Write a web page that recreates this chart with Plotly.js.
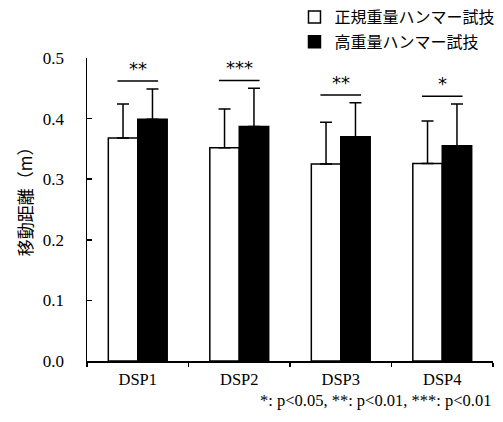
<!DOCTYPE html>
<html>
<head>
<meta charset="utf-8">
<script src="https://cdn.plot.ly/plotly-3.0.1.min.js"></script>
<style>html,body{margin:0;padding:0;background:#fff;}#chart{width:503px;height:422px;}</style>
</head>
<body>
<div id="chart"></div>
<script>
const categories = ["DSP1", "DSP2", "DSP3", "DSP4"];
const seriesNames = ["正規重量ハンマー試技", "高重量ハンマー試技"];
const normalMean = [0.368, 0.352, 0.325, 0.326];
const normalSD = [0.056, 0.064, 0.069, 0.070];
const heavyMean = [0.399, 0.387, 0.370, 0.355];
const heavySD = [0.050, 0.063, 0.056, 0.069];
const sigLabels = ["**", "***", "**", "*"];
const yTickVals = [0, 0.1, 0.2, 0.3, 0.4, 0.5];
const yTitle = "移動距離（m）";
const footnote = "*: p&lt;0.05, **: p&lt;0.01, ***: p&lt;0.01";

const serif = "Liberation Serif";
const cjk = "Noto Sans CJK JP";

const zeros = categories.map(() => 0);
const traces = [
  {
    type: "bar", name: seriesNames[0], x: categories, y: normalMean, legendgroup: "g1",
    marker: {color: "#ffffff", line: {color: "#000000", width: 1.5}},
    error_y: {type: "data", symmetric: false, array: normalSD, arrayminus: zeros, color: "#000000", thickness: 1.5, width: 6}
  },
  {
    type: "bar", name: seriesNames[1], x: categories, y: heavyMean, legendgroup: "g2",
    marker: {color: "#000000", line: {color: "#000000", width: 1.5}},
    error_y: {type: "data", symmetric: false, array: heavySD, arrayminus: zeros, color: "#000000", thickness: 1.5, width: 6}
  }
];

const shapes = [];
const annotations = [];
categories.forEach((c, i) => {
  const top = Math.max(normalMean[i] + normalSD[i], heavyMean[i] + heavySD[i]) + 0.013;
  shapes.push({type: "line", xref: "x", yref: "y", x0: i - 0.2, x1: i + 0.2, y0: top, y1: top, line: {color: "#000000", width: 1.5}});
  annotations.push({xref: "x", yref: "y", x: i, y: top, text: sigLabels[i], showarrow: false, yanchor: "bottom", yshift: 0, font: {family: "DejaVu Sans", size: 18, color: "#000"}});
});
annotations.push({xref: "paper", yref: "paper", x: 1, y: -0.132, xanchor: "right", yanchor: "middle", text: footnote, showarrow: false, font: {family: serif, size: 16.5, color: "#000"}});
annotations.push({xref: "paper", yref: "paper", x: -0.155, y: 0.541, xanchor: "center", yanchor: "middle", textangle: -90, text: yTitle, showarrow: false, font: {family: cjk, size: 17, color: "#000"}});

const layout = {
  width: 503, height: 422,
  margin: {l: 87, r: 10, t: 58, b: 61, autoexpand: false},
  paper_bgcolor: "#ffffff", plot_bgcolor: "#ffffff",
  barmode: "group", bargap: 0.42, bargroupgap: 0,
  showlegend: true,
  legend: {xref: "container", yref: "container", x: 0.995, xanchor: "right", y: 1.015, yanchor: "top",
    font: {family: cjk, size: 16, color: "#000"}, bgcolor: "rgba(0,0,0,0)", traceorder: "grouped", tracegroupgap: 1},
  xaxis: {
    type: "category", showline: true, linecolor: "#000", linewidth: 1.5, mirror: false, automargin: false,
    ticks: "outside", tickson: "boundaries", ticklen: 4, tickcolor: "#000", tickwidth: 1.5, ticklabelstandoff: 3,
    tickfont: {family: serif, size: 16.5, color: "#000"}, showgrid: false, zeroline: false, fixedrange: true
  },
  yaxis: {
    range: [0, 0.5], tickvals: yTickVals, tickformat: ".1f", showline: true, linecolor: "#000", linewidth: 1.5, automargin: false,
    ticks: "inside", ticklen: 5, tickcolor: "#000", tickwidth: 1.5, ticklabelstandoff: 18,
    tickfont: {family: serif, size: 17, color: "#000"}, showgrid: false, zeroline: false, fixedrange: true
  },
  shapes: shapes,
  annotations: annotations
};

Plotly.newPlot("chart", traces, layout, {displayModeBar: false, staticPlot: true});
</script>
</body>
</html>
